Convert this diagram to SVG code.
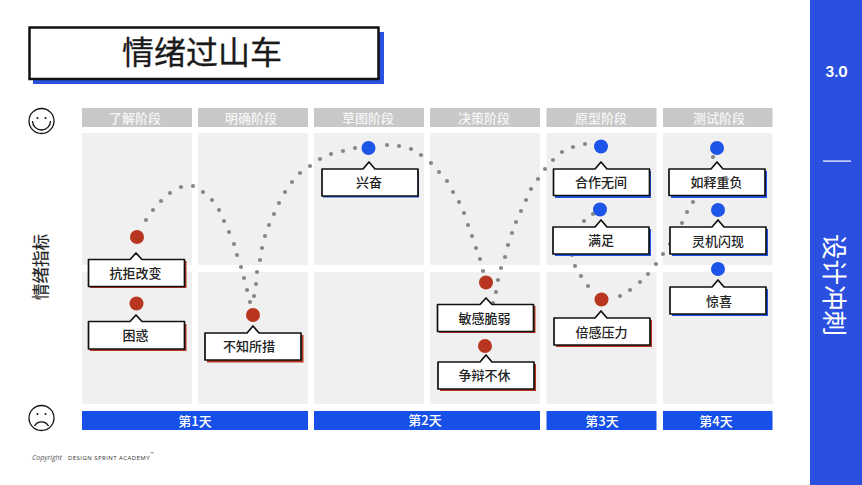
<svg xmlns="http://www.w3.org/2000/svg" width="862" height="485" viewBox="0 0 862 485">
<style>
text{font-family:"Noto Sans CJK SC","Noto Sans",sans-serif;text-anchor:middle}
.h{fill:#c8c8c8}.p{fill:#f0f0f0}.d{fill:#1650e8}
.ht{font-size:13px;fill:#f6f6f6;font-weight:500}.dt{font-size:13px;fill:#fff;font-weight:500}
.c{fill:#fff;stroke:#111;stroke-width:1.7;stroke-linejoin:round}
.sr{fill:#b8361f}.sb{fill:#1d55e8}
.lb{font-size:13px;fill:#222;font-weight:500}
#dots circle{r:2.1px;fill:#868686}
.face{fill:none;stroke:#111;stroke-width:1.3}
</style>
<rect width="862" height="485" fill="#fff"/>
<rect x="810" y="0" width="52" height="485" fill="#2b50e0"/>
<text x="836.500" y="77" style="font-family:Inter,'Liberation Sans',sans-serif;font-size:14px;font-weight:700;fill:#fff">3.0</text>
<rect x="823" y="160.500" width="28" height="1.200" fill="#fff"/>
<text transform="translate(834,285) rotate(90)" y="9" style="font-size:25.500px;fill:#fff;font-weight:400">设计冲刺</text>
<g id="title">
<rect x="33" y="32" width="351" height="52" fill="#2b50e0"/>
<rect x="29.500" y="27.500" width="349" height="51.500" fill="#fff" stroke="#111" stroke-width="2.500"/>
<text x="202" y="64" style="font-size:32px;fill:#1a1a1a;font-weight:400;stroke:#1a1a1a;stroke-width:.3">情绪过山车</text>
</g>
<g id="headers">
<rect class="h" x="82" y="108" width="110" height="19"/><rect class="h" x="198" y="108" width="110" height="19"/><rect class="h" x="314" y="108" width="110" height="19"/><rect class="h" x="430" y="108" width="110" height="19"/><rect class="h" x="546.500" y="108" width="110" height="19"/><rect class="h" x="663" y="108" width="109.500" height="19"/>
<text class="ht" x="135" y="122.500">了解阶段</text><text class="ht" x="251" y="122.500">明确阶段</text><text class="ht" x="368" y="122.500">草图阶段</text><text class="ht" x="484" y="122.500">决策阶段</text><text class="ht" x="601" y="122.500">原型阶段</text><text class="ht" x="719" y="122.500">测试阶段</text>
</g>
<g id="panels">
<rect class="p" x="82" y="133" width="110" height="132"/><rect class="p" x="198" y="133" width="110" height="132"/><rect class="p" x="314" y="133" width="110" height="132"/><rect class="p" x="430" y="133" width="110" height="132"/><rect class="p" x="546.500" y="133" width="110" height="132"/><rect class="p" x="663" y="133" width="109.500" height="132"/>
<rect class="p" x="82" y="272" width="110" height="132"/><rect class="p" x="198" y="272" width="110" height="132"/><rect class="p" x="314" y="272" width="110" height="132"/><rect class="p" x="430" y="272" width="110" height="132"/><rect class="p" x="546.500" y="272" width="110" height="132"/><rect class="p" x="663" y="272" width="109.500" height="132"/>
</g>
<g id="days">
<rect class="d" x="82" y="411" width="226" height="19"/><rect class="d" x="314" y="411" width="226" height="19"/><rect class="d" x="546.500" y="411" width="110" height="19"/><rect class="d" x="663" y="411" width="109.500" height="19"/>
<text class="dt" x="195" y="425.500">第1天</text><text class="dt" x="425" y="425">第2天</text><text class="dt" x="602" y="425.500">第3天</text><text class="dt" x="716" y="425.500">第4天</text>
</g>
<g id="face-happy"><circle class="face" cx="41.500" cy="121" r="12.500"/><path class="face" d="M32.500 121a9 9 0 0 0 18 0"/><circle cx="37.500" cy="118" r="1" fill="#111"/><circle cx="45.500" cy="118" r="1" fill="#111"/></g>
<g id="face-sad"><circle class="face" cx="41.500" cy="418" r="12.500"/><path class="face" d="M34.500 426a8 8 0 0 1 14 0"/><circle cx="37.500" cy="414" r="1" fill="#111"/><circle cx="45.500" cy="414" r="1" fill="#111"/></g>
<text transform="translate(41,267) rotate(-90)" y="6" style="font-size:16.500px;fill:#222;font-weight:400;stroke:#222;stroke-width:.2">情绪指标</text>
<g id="dots">
<circle cx="146" cy="220"/><circle cx="153" cy="210"/><circle cx="161" cy="201"/><circle cx="170" cy="193"/><circle cx="181" cy="187"/><circle cx="193" cy="186"/><circle cx="203" cy="192"/><circle cx="212" cy="200"/><circle cx="219" cy="210"/><circle cx="224" cy="221"/><circle cx="229" cy="232"/><circle cx="234" cy="244"/><circle cx="237" cy="255"/><circle cx="241" cy="267"/><circle cx="244" cy="278"/><circle cx="247" cy="290"/><circle cx="250" cy="302"/>
<circle cx="254" cy="296"/><circle cx="256" cy="284"/><circle cx="257" cy="272"/><circle cx="260" cy="260"/><circle cx="262" cy="248"/><circle cx="265" cy="236"/><circle cx="269" cy="225"/><circle cx="274" cy="214"/><circle cx="279" cy="203"/><circle cx="285" cy="192"/><circle cx="292" cy="182"/><circle cx="300" cy="173"/><circle cx="310" cy="166"/><circle cx="320" cy="159"/><circle cx="331" cy="154"/><circle cx="343" cy="151"/><circle cx="355" cy="148"/>
<circle cx="387" cy="145"/><circle cx="399" cy="146"/><circle cx="411" cy="149"/><circle cx="421" cy="155"/><circle cx="431" cy="163"/><circle cx="439" cy="172"/><circle cx="447" cy="181"/><circle cx="453" cy="192"/><circle cx="459" cy="202"/><circle cx="464" cy="213"/><circle cx="468" cy="225"/><circle cx="472" cy="236"/><circle cx="476" cy="248"/><circle cx="480" cy="259"/><circle cx="483" cy="271"/>
<circle cx="493" cy="303"/><circle cx="496" cy="292"/><circle cx="498" cy="280"/><circle cx="501" cy="268"/><circle cx="505" cy="257"/><circle cx="508" cy="245"/><circle cx="512" cy="233"/><circle cx="516" cy="222"/><circle cx="521" cy="211"/><circle cx="526" cy="200"/><circle cx="531" cy="189"/><circle cx="538" cy="179"/><circle cx="545" cy="169"/><circle cx="553" cy="160"/><circle cx="562" cy="152"/><circle cx="573" cy="147"/><circle cx="585" cy="144"/>
<circle cx="584" cy="221"/><circle cx="593" cy="214"/><circle cx="572" cy="255"/><circle cx="575" cy="266"/><circle cx="581" cy="276"/><circle cx="588" cy="286"/>
<circle cx="620" cy="296"/><circle cx="630" cy="290"/><circle cx="640" cy="282"/><circle cx="648" cy="274"/><circle cx="656" cy="264"/><circle cx="663" cy="254"/><circle cx="670" cy="244"/><circle cx="682" cy="223"/><circle cx="687" cy="212"/><circle cx="693" cy="202"/><circle cx="713" cy="157"/>
</g>
<g id="n-kangju"><circle class="sr" cx="137" cy="237" r="7"/><rect class="sr" x="90" y="261" width="96.500" height="27"/><path class="c" d="M88.500 259.500H130L136 253L142 259.500H184.500V286.500H88.500Z"/><text class="lb" x="135.500" y="277.500">抗拒改变</text></g>
<g id="n-kunhuo"><circle class="sr" cx="136.500" cy="303.500" r="7"/><rect class="sr" x="90" y="324" width="96.500" height="27"/><path class="c" d="M88.500 321.500H130L136 315L142 321.500H184.500V349H88.500Z"/><text class="lb" x="135.500" y="340">困惑</text></g>
<g id="n-buzhi"><circle class="sr" cx="253" cy="315" r="7"/><rect class="sr" x="207" y="335" width="96.500" height="27.500"/><path class="c" d="M205 333H247L253 326L259 333H301V360H205Z"/><text class="lb" x="249" y="351">不知所措</text></g>
<g id="n-xingfen"><circle class="sb" cx="368.500" cy="148" r="7"/><rect class="sb" x="323" y="171" width="96" height="26.500"/><path class="c" d="M322 169H363L369 162L375 169H418V196H322Z"/><text class="lb" x="369" y="187">兴奋</text></g>
<g id="n-mingan"><circle class="sr" cx="486" cy="282.500" r="7"/><rect class="sr" x="439" y="306" width="96.500" height="27"/><path class="c" d="M437.500 304.500H480L486 298L492 304.500H533.500V331.500H437.500Z"/><text class="lb" x="484.500" y="323">敏感脆弱</text></g>
<g id="n-zhengbian"><circle class="sr" cx="485" cy="346" r="7"/><rect class="sr" x="440" y="364" width="96" height="27"/><path class="c" d="M438 362H480L486 355L492 362H534V389H438Z"/><text class="lb" x="484.500" y="380">争辩不休</text></g>
<g id="n-beigan"><circle class="sr" cx="601.500" cy="299.500" r="7"/><rect class="sr" x="556" y="320" width="96" height="27"/><path class="c" d="M554 318H595L601 311L607 318H650V345H554Z"/><text class="lb" x="601.500" y="337">倍感压力</text></g>
<g id="n-hezuo"><circle class="sb" cx="601" cy="146.500" r="7"/><rect class="sb" x="555" y="171" width="96" height="27"/><path class="c" d="M553.500 169H595L601 162L607 169H649.500V195.500H553.500Z"/><text class="lb" x="601" y="187">合作无间</text></g>
<g id="n-manzu"><circle class="sb" cx="600" cy="209.500" r="7"/><rect class="sb" x="555" y="229" width="96" height="27"/><path class="c" d="M553 227H595L601 220L607 227H649V254H553Z"/><text class="lb" x="601" y="245">满足</text></g>
<g id="n-rushi"><circle class="sb" cx="717" cy="148" r="7"/><rect class="sb" x="671" y="171" width="96" height="27"/><path class="c" d="M669 169H711L717 162L723 169H765V195.500H669Z"/><text class="lb" x="716.500" y="187">如释重负</text></g>
<g id="n-lingji"><circle class="sb" cx="718" cy="210" r="7"/><rect class="sb" x="672" y="229" width="96" height="27"/><path class="c" d="M670 227H712L718 220L724 227H766V254H670Z"/><text class="lb" x="718" y="246">灵机闪现</text></g>
<g id="n-jingxi"><circle class="sb" cx="718" cy="269" r="7"/><rect class="sb" x="672" y="289" width="96" height="27"/><path class="c" d="M670 287H712L718 280L724 287H766V314H670Z"/><text class="lb" x="719" y="306">惊喜</text></g>
<text x="47" y="460" style="font-family:'Open Sans',sans-serif;font-size:7px;font-style:italic;fill:#555">Copyright</text>
<text x="109" y="459.500" style="font-family:'Open Sans',sans-serif;font-size:6px;fill:#333;letter-spacing:.45px">DESIGN SPRINT ACADEMY</text>
<text x="152" y="455" style="font-family:'Open Sans',sans-serif;font-size:4px;fill:#333">™</text>
</svg>
